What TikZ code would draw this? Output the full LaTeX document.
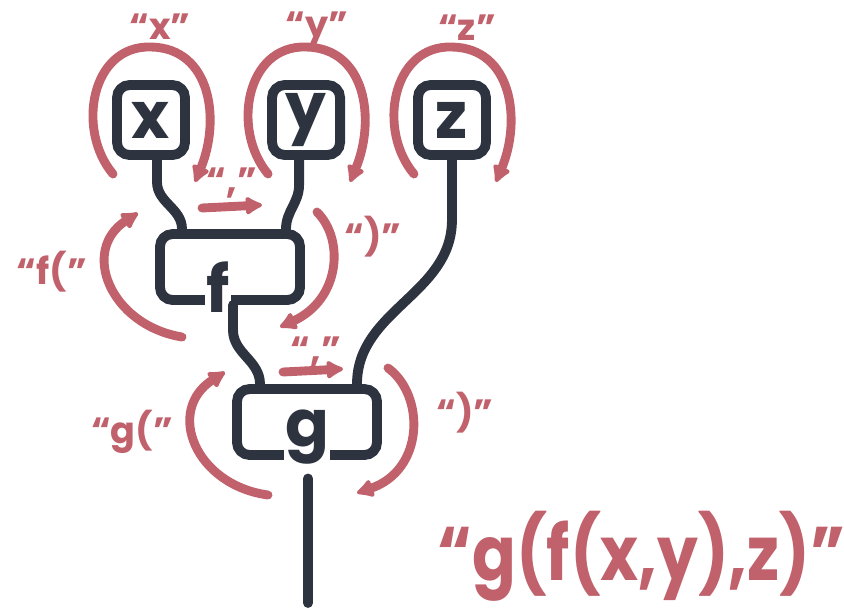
\documentclass[tikz,border=0pt]{standalone}
\usepackage{fontspec}
\setmainfont{Poppins}
\usetikzlibrary{arrows.meta,positioning,calc}
\definecolor{ink}{RGB}{45,52,64}
\definecolor{rose}{RGB}{192,97,107}

\begin{document}
\begin{tikzpicture}[
  x=0.025cm, y=0.025cm,
  leaf/.style={draw=ink, line width=7pt, rounded corners=9pt, minimum width=1.7cm, minimum height=1.75cm, inner sep=0pt, text=ink, font=\fontsize{46}{46}\selectfont\bfseries},
  opbox/.style={draw=ink, line width=7pt, rounded corners=9pt, minimum width=3.5cm, minimum height=1.65cm, inner sep=0pt},
  oplet/.style={fill=white, inner sep=1pt, text=ink, font=\fontsize{46}{46}\selectfont\bfseries},
  wire/.style={ink, line width=7pt, line cap=round},
  hint/.style={rose, line width=6.3pt, line cap=round, -{Latex[length=5mm,width=5.5mm,round]}},
  lbl/.style={text=rose, font=\fontsize{26}{26}\selectfont\bfseries}
]
\useasboundingbox (0,0) rectangle (844,-608);

% leaves
\node[leaf] (bx) at (151,-120) {x};
\node[leaf, right=1.93cm of bx] (by) {y};
\node[leaf, right=1.7cm of by] (bz) {z};

% operator boxes, letter cuts the bottom edge
\node[opbox] (fb) at (230,-267) {};
\node[oplet, anchor=base] (fl) at (218,-312) {f};
\node[opbox] (gb) at (307,-422) {};
\node[oplet, anchor=base] (gl) at (307,-446) {g};
\coordinate (root) at (308,-603);

% wires
\draw[wire] ([shift={(6,0)}]bx.south) -- ++(0,-22) to[out=-90,in=90] ([shift={(-48,0)}]fb.north);
\draw[wire] ([shift={(-7,0)}]by.south) -- ++(0,-25) to[out=-90,in=90] ([shift={(56,0)}]fb.north);
\draw[wire] (bz.south) -- ++(0,-60) to[out=-90,in=90] ([shift={(50,0)}]gb.north);
\draw[wire] ([shift={(3,0)}]fb.south) -- ++(0,-25) to[out=-90,in=90] ([shift={(-47,0)}]gb.north);
\draw[wire] ([shift={(1,-13)}]gl.south) -- (root);

% reading order
\draw[hint, shift={(bx.center)}] (-38,-54) .. controls (-75,-10) and (-60,75) .. (0,73) .. controls (60,72) and (70,0) .. (44,-62);
\draw[hint, shift={(by.center)}] (-38,-54) .. controls (-75,-10) and (-60,75) .. (0,73) .. controls (60,72) and (70,0) .. (44,-62);
\draw[hint, shift={(bz.center)}] (-38,-54) .. controls (-75,-10) and (-60,75) .. (0,73) .. controls (60,72) and (70,0) .. (44,-62);
\node[lbl] (qx) at (160,-27) {“x”};
\node[lbl] (qy) at (317,-30) {“y”};
\node[lbl] (qz) at (467,-28) {“z”};

\draw[hint, shift={(fb.center)}] (-48,-70) .. controls (-120,-58) and (-150,17) .. (-92,54);
\draw[hint, shift={(fb.center)}] (87,55) .. controls (115,27) and (110,-33) .. (50,-60);
\node[lbl] (qf) at (52,-272) {“f(”};
\node[lbl] (qfc) at (373,-237) {“)”};
\node[lbl] (qxy) at (232,-183) {“,”};
\draw[hint] ([shift={(-30,-25)}]qxy.center) -- ++(60,3);

\draw[hint, shift={(gb.center)}] (-39,-73) .. controls (-112,-63) and (-142,12) .. (-82,50);
\draw[hint, shift={(gb.center)}] (81,54) .. controls (118,27) and (118,-48) .. (50,-71);
\node[lbl] (qg) at (132,-432) {“g(”};
\node[lbl] (qgc) at (465,-413) {“)”};
\node[lbl] (qfz) at (316,-352) {“,”};
\draw[hint] ([shift={(-33,-20)}]qfz.center) -- ++(60,3);

% whole term
\node[lbl, font=\fontsize{54}{54}\selectfont\bfseries, anchor=base west, inner sep=0pt] (term) at (437,-580) {\scalebox{0.85}[1]{“g(f(x,y),z)”}};
\end{tikzpicture}
\end{document}
